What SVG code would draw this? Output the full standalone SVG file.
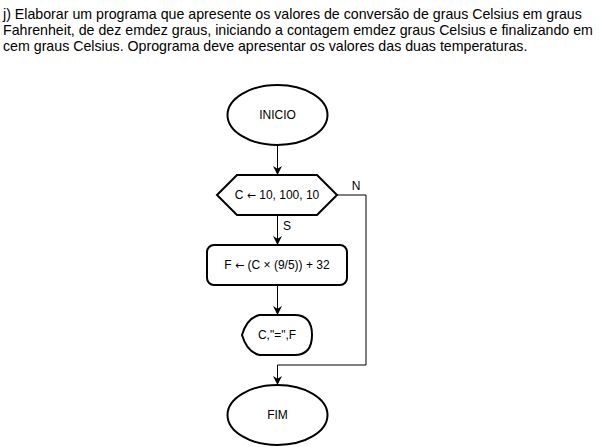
<svg xmlns="http://www.w3.org/2000/svg" width="601" height="447" viewBox="0 0 601 447">
<style>
.shape{fill:#fff;stroke:#000;stroke-width:2}
.lbl{font-family:"Liberation Sans",Arial,sans-serif;font-size:12px;fill:#000;text-anchor:middle;dominant-baseline:central}
.ar{font-family:"DejaVu Sans",sans-serif;font-size:11px}
.hdr{font-family:"Liberation Sans",Arial,sans-serif;font-size:14.2px;fill:#000}
.conn{fill:none;stroke:#000;stroke-width:1}
</style>
<defs>
<marker id="arr" viewBox="0 0 10 10" refX="10" refY="5" markerWidth="9" markerHeight="9" markerUnits="userSpaceOnUse" orient="auto">
<path d="M0,0 L10,5 L0,10 L3,5 Z" fill="#000"/>
</marker>
</defs>
<rect width="601" height="447" fill="#fff"/>
<g id="header">
<text class="hdr" x="3" y="19">j) Elaborar um programa que apresente os valores de conversão de graus Celsius em graus</text>
<text class="hdr" x="3" y="35">Fahrenheit, de dez emdez graus, iniciando a contagem emdez graus Celsius e finalizando em</text>
<text class="hdr" x="3" y="51">cem graus Celsius. Oprograma deve apresentar os valores das duas temperaturas.</text>
</g>
<g id="connectors">
<path class="conn" d="M277.5,145 V175" marker-end="url(#arr)"/>
<path class="conn" d="M277.5,215 V245" marker-end="url(#arr)"/>
<path class="conn" d="M277.5,285 V315" marker-end="url(#arr)"/>
<path class="conn" d="M337,195 H366 V365 H277.5 V385" marker-end="url(#arr)"/>
<text class="lbl" x="287" y="226">S</text>
<text class="lbl" x="356" y="186">N</text>
</g>
<g id="inicio">
<ellipse class="shape" cx="277.5" cy="115" rx="50" ry="30"/>
<text class="lbl" x="277.5" y="115">INICIO</text>
</g>
<g id="loop">
<path class="shape" d="M217,195 L237,175 H317 L337,195 L317,215 H237 Z"/>
<text class="lbl" x="277" y="195">C <tspan class="ar">←</tspan> 10, 100, 10</text>
</g>
<g id="calc">
<rect class="shape" x="207" y="245" width="140" height="40" rx="7"/>
<text class="lbl" x="277" y="265">F <tspan class="ar">←</tspan> (C × (9/5)) + 32</text>
</g>
<g id="display">
<path class="shape" d="M242,335 Q247,318 259.5,315 H294.5 Q312,315 312,335 Q312,355 294.5,355 H259.5 Q247,352 242,335 Z"/>
<text class="lbl" x="277" y="335">C,"=",F</text>
</g>
<g id="fim">
<ellipse class="shape" cx="277.5" cy="415" rx="50" ry="30"/>
<text class="lbl" x="277.5" y="415">FIM</text>
</g>
</svg>
